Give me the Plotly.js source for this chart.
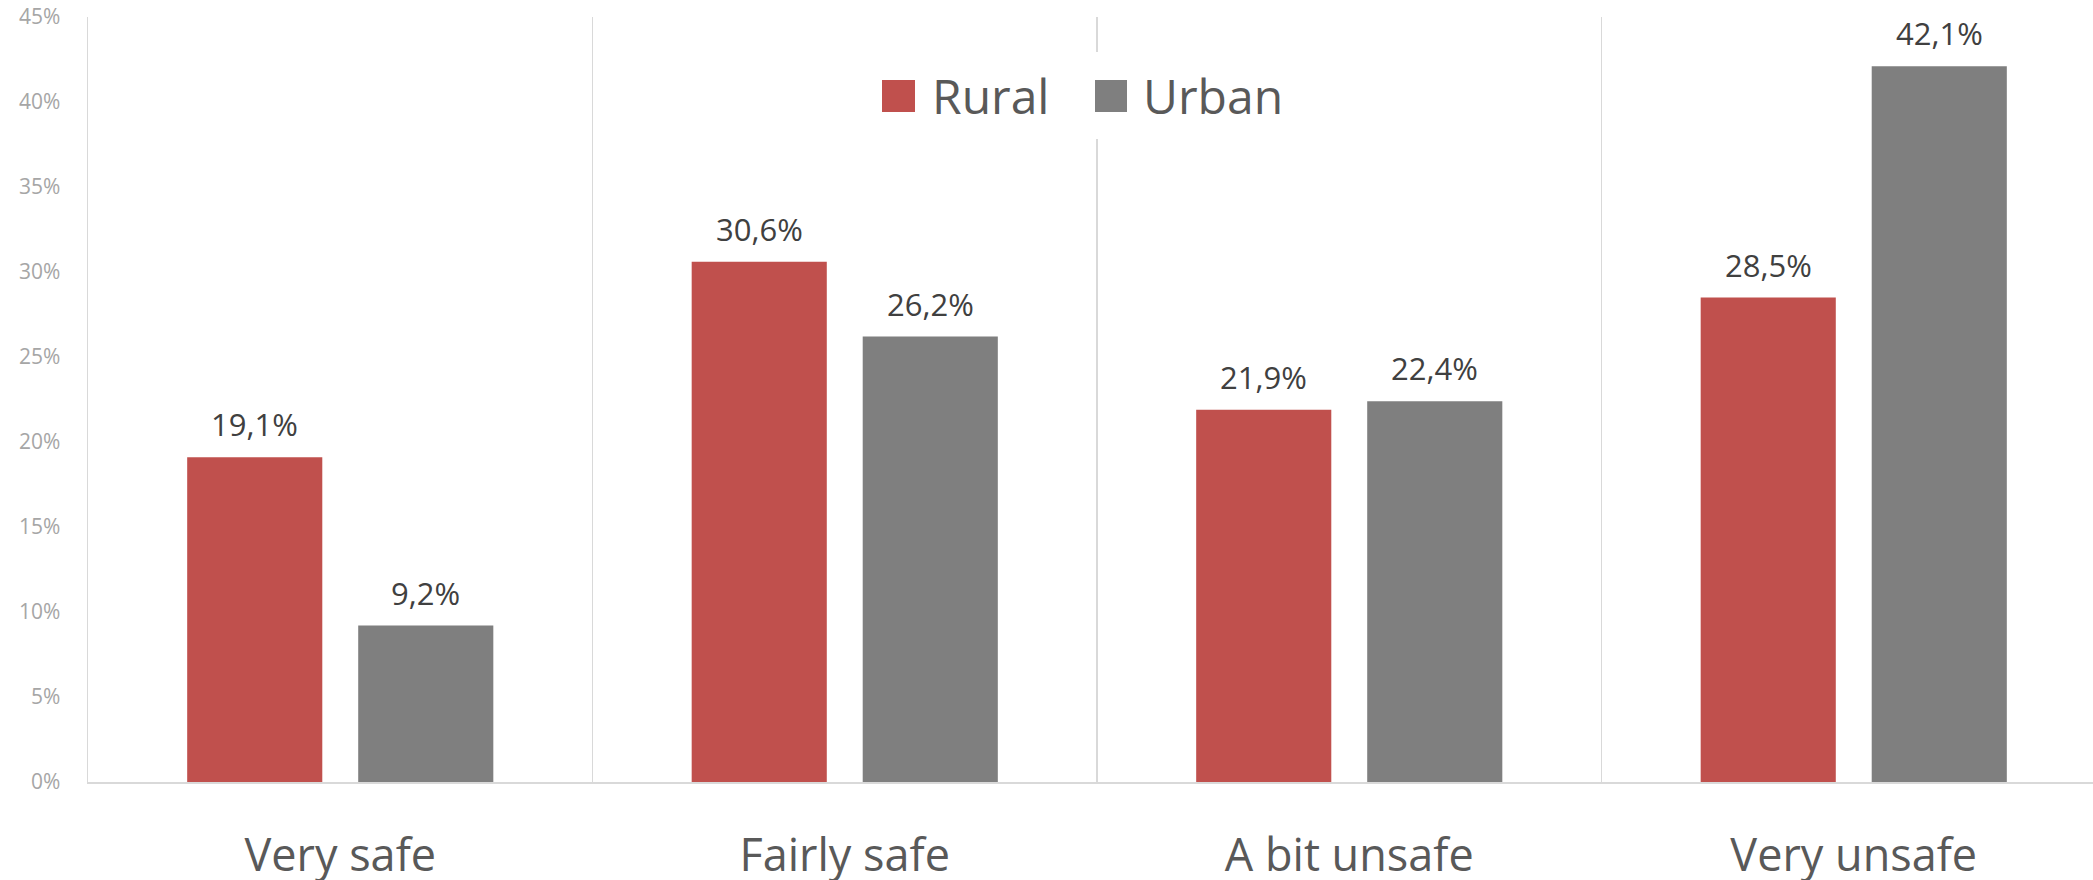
<!DOCTYPE html>
<html>
<head>
<meta charset="utf-8">
<script src="https://cdn.plot.ly/plotly-3.0.1.min.js"></script>
<style>html,body{margin:0;padding:0;background:#fff;}#chart{width:2093px;height:880px;}</style>
</head>
<body>
<div id="chart"></div>
<script>
const categories = ["Very safe", "Fairly safe", "A bit unsafe", "Very unsafe"];
const seriesNames = ["Rural", "Urban"];
const rural = [19.1, 30.6, 21.9, 28.5];
const urban = [9.2, 26.2, 22.4, 42.1];
const yTickVals = [0, 5, 10, 15, 20, 25, 30, 35, 40, 45];
const yTickLabels = ["0%", "5%", "10%", "15%", "20%", "25%", "30%", "35%", "40%", "45%"];
const seriesColors = ["#c0504d", "#7f7f7f"];

const FONT = "Open Sans, Noto Sans, sans-serif";
const W = 2093, H = 880;
const m = {l: 88, r: 0, t: 17, b: 98};
const pw = W - m.l - m.r, ph = H - m.t - m.b;
const px2x = p => (p - m.l) / pw;
const px2y = p => (H - m.b - p) / ph;
const BARGAP = 0.322;
const seriesValues = [rural, urban];

function barTrace(name, vals, color) {
  return {
    type: "bar", name: name, x: categories, y: vals,
    marker: {color: color},
    showlegend: false, hoverinfo: "x+y+name"
  };
}

const data = seriesNames.map((n, i) => barTrace(n, seriesValues[i], seriesColors[i]));

const legendBoxes = [[882, 915], [1095, 1127]];
const legendText = [930, 1141];
const shapes = [{
  type: "rect", xref: "paper", yref: "paper", layer: "above",
  x0: px2x(860), x1: px2x(1310), y0: px2y(139), y1: px2y(52),
  fillcolor: "#ffffff", line: {width: 0}
}];
const annotations = [];
seriesNames.forEach((n, i) => {
  shapes.push({
    type: "rect", xref: "paper", yref: "paper", layer: "above",
    x0: px2x(legendBoxes[i][0]), x1: px2x(legendBoxes[i][1]),
    y0: px2y(112), y1: px2y(80),
    fillcolor: seriesColors[i], line: {width: 0}
  });
  annotations.push({
    xref: "paper", yref: "paper", x: px2x(legendText[i]), y: px2y(96),
    xanchor: "left", yanchor: "middle", showarrow: false, text: n,
    font: {family: FONT, size: 48, color: "#595959"}
  });
});

// value labels above each bar, placed on the library's category / value scales
const slot = (1 - BARGAP) / seriesNames.length;
seriesValues.forEach((vals, s) => {
  vals.forEach((v, c) => {
    annotations.push({
      xref: "x", yref: "y",
      x: c - (1 - BARGAP) / 2 + slot * (s + 0.5), y: v,
      xanchor: "center", yanchor: "bottom", yshift: 10,
      showarrow: false,
      text: v.toFixed(1).replace(".", ",") + "%",
      font: {family: FONT, size: 31, color: "#404040"}
    });
  });
});

const layout = {
  width: W, height: H,
  margin: m,
  paper_bgcolor: "#ffffff", plot_bgcolor: "#ffffff",
  separators: ",.",
  barmode: "group", bargap: BARGAP, bargroupgap: 0.21,
  showlegend: false,
  xaxis: {
    type: "category", range: [-0.5, -0.5 + pw / 504.5],
    tickson: "boundaries", showgrid: true, gridcolor: "#d9d9d9", gridwidth: 1.5,
    showline: true, linecolor: "#d9d9d9", linewidth: 1.5,
    ticks: "", ticklabelstandoff: 33,
    tickfont: {family: FONT, size: 45, color: "#595959"},
    fixedrange: true
  },
  yaxis: {
    range: [0, 45], tickmode: "array", tickvals: yTickVals, ticktext: yTickLabels,
    showgrid: false, zeroline: false,
    showline: true, linecolor: "#d9d9d9", linewidth: 1.5,
    ticks: "", ticklabelstandoff: 22,
    tickfont: {family: FONT, size: 21, color: "#a6a6a6"},
    fixedrange: true
  },
  shapes: shapes,
  annotations: annotations
};

Plotly.newPlot("chart", data, layout, {displayModeBar: false, staticPlot: true});
</script>
</body>
</html>
